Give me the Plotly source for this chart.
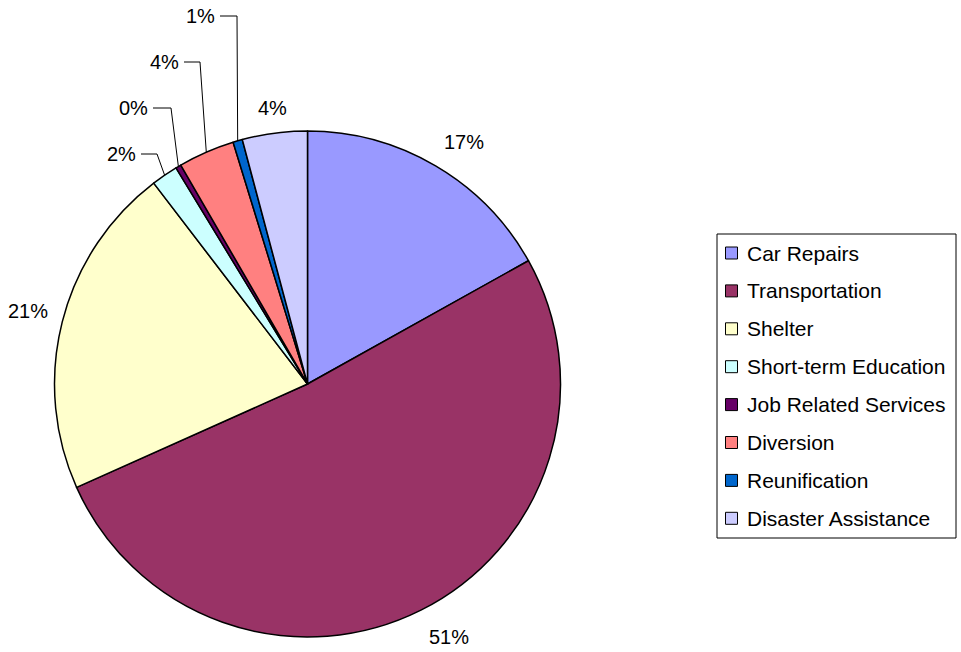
import math
import plotly.graph_objects as go

# slice data (share of total)
categories = ['Car Repairs', 'Transportation', 'Shelter', 'Short-term Education',
              'Job Related Services', 'Diversion', 'Reunification', 'Disaster Assistance']
values = [16.9, 51.4, 21.3, 1.7, 0.35, 3.6, 0.6, 4.15]
colors = ['#9999FF', '#993366', '#FFFFCC', '#CCFFFF', '#660066', '#FF8080', '#0066CC', '#CCCCFF']

W, H = 961, 652
CX, CY, R = 307.5, 384, 253   # pie centre / radius in px
FONT = 'Liberation Sans, Arial, sans-serif'

def px(x):
  return x / W

def py(y):
  return 1 - y / H

# small slices get leader lines: label right edge x, label y, elbow x
leader = {
  'Short-term Education': (138, 154, 157),
  'Job Related Services': (150, 108, 171),
  'Diversion': (181, 62, 200),
  'Reunification': (217, 16, 237),
}

fig = go.Figure()
fig.add_trace(go.Pie(labels=categories, values=values, sort=False, direction='clockwise',
                     rotation=0, textinfo='none', hoverinfo='label+percent',
                     marker=dict(colors=colors, line=dict(color='black', width=1.5)),
                     domain=dict(x=[px(CX - R), px(CX + R)], y=[py(CY + R), py(CY - R)]),
                     showlegend=False))

total = sum(values)
annotations = []
shapes = []
cum = 0
for name, v in zip(categories, values):
  mid = (cum + v / 2) / total * 2 * math.pi
  cum += v
  s, c = math.sin(mid), math.cos(mid)
  txt = f'{round(v / total * 100)}%'
  if name in leader:
    lx, ly, ex = leader[name]
    edge_x, edge_y = CX + R * s, CY - R * c
    shapes.append(dict(type='path', xref='paper', yref='paper',
                       path=f'M {px(lx + 3)},{py(ly)} L {px(ex)},{py(ly)} L {px(edge_x)},{py(edge_y)}',
                       line=dict(color='black', width=1)))
    annotations.append(dict(x=px(lx), y=py(ly), xref='paper', yref='paper', text=txt,
                            xanchor='right', yanchor='middle', showarrow=False,
                            font=dict(family=FONT, size=20, color='black')))
  else:
    r2 = R * 1.05
    xa = 'left' if s > 0.3 else ('right' if s < -0.3 else 'center')
    ya = 'bottom' if c > 0.3 else ('top' if c < -0.3 else 'middle')
    ys = 8 if ya == 'middle' else (-3 if ya == 'top' else 0)
    annotations.append(dict(x=px(CX + r2 * s), y=py(CY - r2 * c), xref='paper', yref='paper',
                            text=txt, xanchor=xa, yanchor=ya, yshift=ys,
                            showarrow=False, font=dict(family=FONT, size=20, color='black')))

# legend box drawn by hand so the row spacing matches
LX0, LY0, LX1, LY1 = 717, 234, 956, 538
ROW0, ROWGAP = 253, 37.9
shapes.append(dict(type='rect', xref='paper', yref='paper', x0=px(LX0), y0=py(LY0), x1=px(LX1), y1=py(LY1),
                   line=dict(color='black', width=1), fillcolor='white', layer='below'))
for i, (name, col) in enumerate(zip(categories, colors)):
  yy = ROW0 + i * ROWGAP
  shapes.append(dict(type='rect', xref='paper', yref='paper', x0=px(725.5), x1=px(737.5),
                     y0=py(yy - 6), y1=py(yy + 6), fillcolor=col, line=dict(color='black', width=1)))
  annotations.append(dict(x=px(745), y=py(yy), xref='paper', yref='paper', text=name,
                          xanchor='left', yanchor='middle', showarrow=False,
                          font=dict(family=FONT, size=21, color='black')))

fig.update_layout(width=W, height=H, autosize=False,
                  margin=dict(l=0, r=0, t=0, b=0),
                  paper_bgcolor='white', plot_bgcolor='white',
                  shapes=shapes, annotations=annotations)

# drop the default 8px body margin so the figure sits at the window's corner
fig.write_html('out.html', config={'displayModeBar': False},
               post_script="document.body.style.margin='0';")
